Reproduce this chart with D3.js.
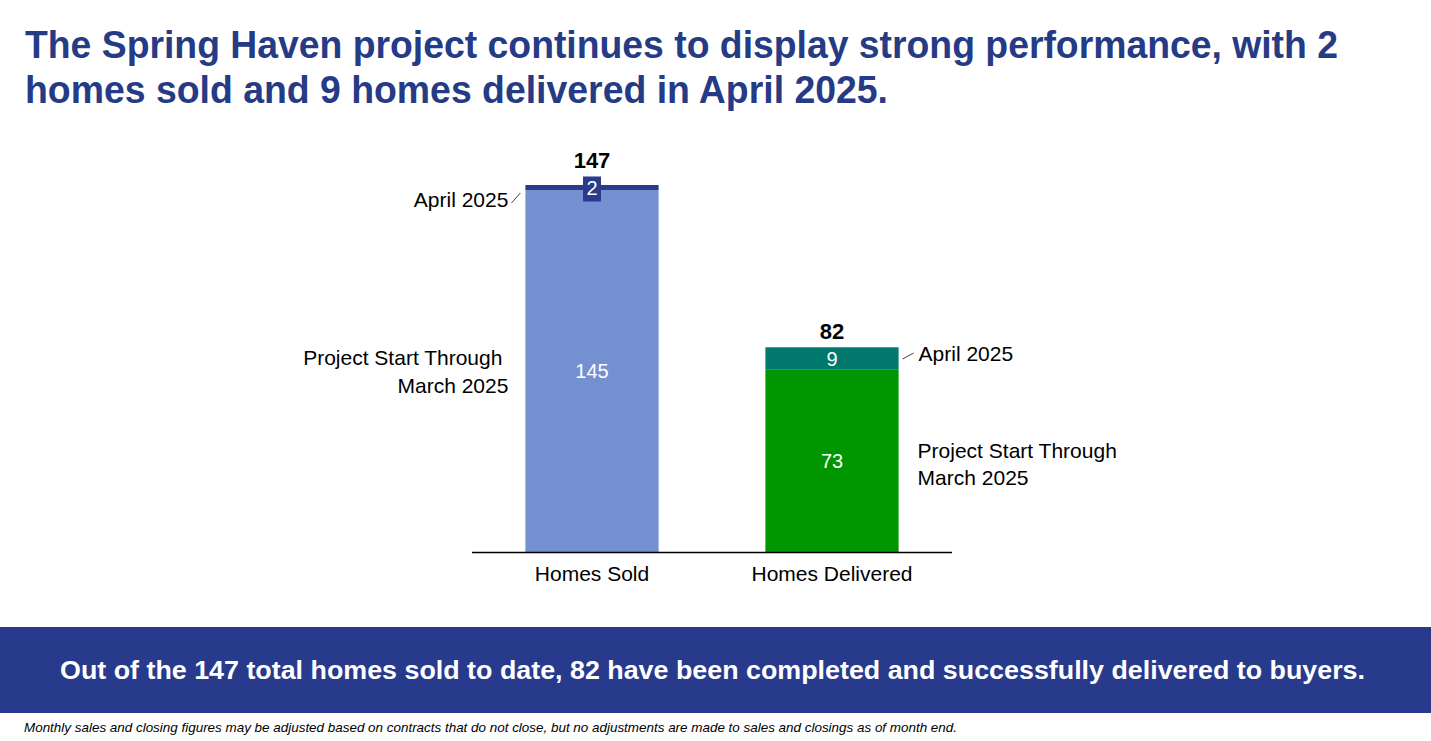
<!DOCTYPE html>
<html>
<head>
<meta charset="utf-8">
<script src="https://cdn.jsdelivr.net/npm/d3@7"></script>
<style>
  body { margin: 0; background: #fff; }
  svg { display: block; font-family: "Liberation Sans", Arial, sans-serif; }
</style>
</head>
<body>
<svg id="chart" width="1431" height="741"></svg>
<script>
// data
var categories = ["Homes Sold", "Homes Delivered"]
var priorValues = [145, 73]     // project start through March 2025
var aprilValues = [2, 9]        // April 2025
var totals = [147, 82]

var titleLines = [
    "The Spring Haven project continues to display strong performance, with 2",
    "homes sold and 9 homes delivered in April 2025."
]
var bannerText = "Out of the 147 total homes sold to date, 82 have been completed and successfully delivered to buyers."
var footnote = "Monthly sales and closing figures may be adjusted based on contracts that do not close, but no adjustments are made to sales and closings as of month end."

var priorColors = ["#7590d0", "#009600"]
var aprilColors = ["#2b3a8a", "#00786e"]

var svg = d3.select('#chart')

// title
svg.selectAll('text.title')
    .data(titleLines)
    .enter().append('text')
    .attr('class', 'title')
    .attr('x', 25)
    .attr('y', function(d, i){ return 58 + i * 45 })
    .attr('textLength', function(d, i){ return i == 0 ? 1313 : 863 })
    .attr('lengthAdjust', 'spacingAndGlyphs')
    .style('font-size', '38px')
    .style('font-weight', 'bold')
    .style('fill', '#263b85')
    .text(function(d){ return d })

// scales
var x = d3.scaleBand()
    .domain(categories)
    .range([472, 952])
    .paddingInner(0.445)
    .paddingOuter(0.2225)

var y = d3.scaleLinear()
    .domain([0, 147])
    .range([552, 185])

var bars = categories.map(function(c, i){
    return {cat: c, prior: priorValues[i], april: aprilValues[i], total: totals[i], i: i}
})

// bottom segments
svg.selectAll('rect.prior')
    .data(bars)
    .enter().append('rect')
    .attr('class', 'prior')
    .attr('x', function(d){ return x(d.cat) })
    .attr('width', x.bandwidth())
    .attr('y', function(d){ return y(d.prior) })
    .attr('height', function(d){ return y(0) - y(d.prior) })
    .style('fill', function(d){ return priorColors[d.i] })

// april segments
svg.selectAll('rect.april')
    .data(bars)
    .enter().append('rect')
    .attr('class', 'april')
    .attr('x', function(d){ return x(d.cat) })
    .attr('width', x.bandwidth())
    .attr('y', function(d){ return y(d.prior + d.april) })
    .attr('height', function(d){ return y(d.prior) - y(d.prior + d.april) })
    .style('fill', function(d){ return aprilColors[d.i] })

// value labels inside bottom segments
svg.selectAll('text.priorLabel')
    .data(bars)
    .enter().append('text')
    .attr('x', function(d){ return x(d.cat) + x.bandwidth() / 2 })
    .attr('y', function(d){ return (y(0) + y(d.prior)) / 2 + 7 })
    .attr('text-anchor', 'middle')
    .style('font-size', '20px')
    .style('fill', '#fff')
    .text(function(d){ return d.prior })

// april value labels; the thin segment gets a box behind its label
bars.forEach(function(d){
    var cx = x(d.cat) + x.bandwidth() / 2
    var mid = (y(d.prior) + y(d.prior + d.april)) / 2
    var thin = (y(d.prior) - y(d.prior + d.april)) < 20
    d.top = y(d.total)
    if(thin){
        svg.append('rect')
            .attr('x', cx - 9)
            .attr('y', mid - 11)
            .attr('width', 18)
            .attr('height', 25)
            .style('fill', aprilColors[d.i])
        d.top = Math.min(d.top, mid - 11)
    }
    svg.append('text')
        .attr('x', cx)
        .attr('y', thin ? mid + 8 : mid + 7)
        .attr('text-anchor', 'middle')
        .style('font-size', '20px')
        .style('fill', '#fff')
        .text(d.april)
})

// totals
svg.selectAll('text.total')
    .data(bars)
    .enter().append('text')
    .attr('x', function(d){ return x(d.cat) + x.bandwidth() / 2 })
    .attr('y', function(d){ return d.top - 8 })
    .attr('text-anchor', 'middle')
    .style('font-size', '22px')
    .style('font-weight', 'bold')
    .style('fill', '#000')
    .text(function(d){ return d.total })

// axis line and category labels
svg.append('line')
    .attr('x1', 472).attr('x2', 952)
    .attr('y1', y(0) + 0.5).attr('y2', y(0) + 0.5)
    .style('stroke', '#000')
    .style('stroke-width', 1.5)

svg.selectAll('text.cat')
    .data(categories)
    .enter().append('text')
    .attr('x', function(d){ return x(d) + x.bandwidth() / 2 })
    .attr('y', 581)
    .attr('text-anchor', 'middle')
    .style('font-size', '21px')
    .style('fill', '#000')
    .text(function(d){ return d })

// series annotations
function label(xp, yp, anchor, lines){
    var t = svg.append('text')
        .attr('text-anchor', anchor)
        .style('font-size', '21px')
        .style('fill', '#000')
    lines.forEach(function(l, i){
        t.append('tspan').attr('x', xp).attr('y', yp + i * 27).text(l)
    })
}

var sx = x(categories[0]), dx = x(categories[1]) + x.bandwidth()

label(sx - 17, 207, 'end', ['April 2025'])
svg.append('line')
    .attr('x1', sx - 14).attr('y1', 203)
    .attr('x2', sx - 5).attr('y2', y(147) + 8)
    .style('stroke', '#444').style('stroke-width', 1)

label(sx - 23, 365, 'end', ['Project Start Through'])
label(sx - 17, 393, 'end', ['March 2025'])

label(dx + 20, 361, 'start', ['April 2025'])
svg.append('line')
    .attr('x1', dx + 4).attr('y1', 359)
    .attr('x2', dx + 15).attr('y2', 353)
    .style('stroke', '#444').style('stroke-width', 1)

label(dx + 19, 458, 'start', ['Project Start Through', 'March 2025'])

// banner
svg.append('rect')
    .attr('x', 0).attr('y', 627)
    .attr('width', 1431).attr('height', 86)
    .style('fill', '#283a8c')

svg.append('text')
    .attr('x', 60)
    .attr('y', 679)
    .attr('textLength', 1305)
    .attr('lengthAdjust', 'spacingAndGlyphs')
    .style('font-size', '26px')
    .style('font-weight', 'bold')
    .style('fill', '#fff')
    .text(bannerText)

// footnote
svg.append('text')
    .attr('x', 24)
    .attr('y', 732)
    .attr('textLength', 933)
    .attr('lengthAdjust', 'spacingAndGlyphs')
    .style('font-size', '13px')
    .style('font-style', 'italic')
    .style('fill', '#000')
    .text(footnote)
</script>
</body>
</html>
